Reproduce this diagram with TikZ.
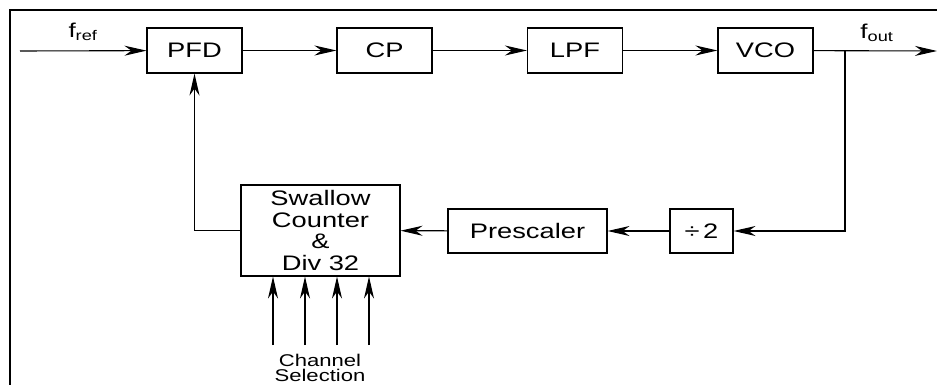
\documentclass[tikz,border=0pt]{standalone}
\usepackage{fontspec}
\setmainfont[FakeStretch=1.3]{Liberation Sans}
\usetikzlibrary{arrows.meta}

\tikzset{
  block/.style={draw, line width=1.1pt, inner sep=0pt, font=\fontsize{21}{21.5}\selectfont},
  sig/.style={line width=1.1pt, -{Stealth[length=22pt,width=10pt,inset=7pt]}},
}

\begin{document}
\begin{tikzpicture}[%
x=1pt, y=-1pt,
]
\useasboundingbox (0,0) rectangle (937,385);
%% frame;
\draw [line width=1.8pt] (10,385) -- (10,10) -- (937,10);
%% forward path;
\node [block, minimum width=95pt, minimum height=45pt] (pfd) at (194.5,50.5) {PFD};
\node [block, minimum width=95pt, minimum height=45pt] (cp) at (384.5,50.5) {CP};
\node [block, minimum width=95pt, minimum height=45pt] (lpf) at (575,50.5) {LPF};
\node [block, minimum width=95pt, minimum height=45pt] (vco) at (765.5,50.5) {VCO};
%% feedback path;
\node [block, minimum width=63pt, minimum height=44pt] (div2) at (701.5,231) {÷\,2};
\node [block, minimum width=159pt, minimum height=44pt] (pre) at (527.5,231) {Prescaler};
\node [block, minimum width=159pt, minimum height=91pt, align=center] (swc) at (320.5,230.5)
  {Swallow\\Counter\\\&\\Div 32};
%% labels;
\node [font=\fontsize{20}{20}\selectfont] (fref) at (83,32) {f\textsubscript{ref}};
\node [font=\fontsize{20}{20}\selectfont] (fout) at (877,33) {f\textsubscript{out}};
\node [font=\fontsize{17}{15.5}\selectfont, align=center] (chsel) at (320,368) {Channel\\Selection};
%% ends;
\coordinate (in) at (20,51);
\coordinate (out) at (937,51);
\coordinate (tap) at (845,51);
%% connectors;
\draw [sig] (in) -- (pfd);
\draw [sig] (pfd) -- (cp);
\draw [sig] (cp) -- (lpf);
\draw [sig] (lpf) -- (vco);
\draw [sig] (vco) -- (out);
\draw [sig] (tap) |- (div2);
\draw [sig] (div2) -- (pre);
\draw [sig] (pre) -- (swc);
\draw [sig] (swc.west) -| (pfd);
%% channel select;
\foreach \cx/\cn in {273/1, 305/2, 337/3, 369/4} {
  \coordinate (ch\cn) at (\cx,345);
  \draw [sig] (ch\cn) -- (ch\cn |- swc.south);
}
\end{tikzpicture}
\end{document}
